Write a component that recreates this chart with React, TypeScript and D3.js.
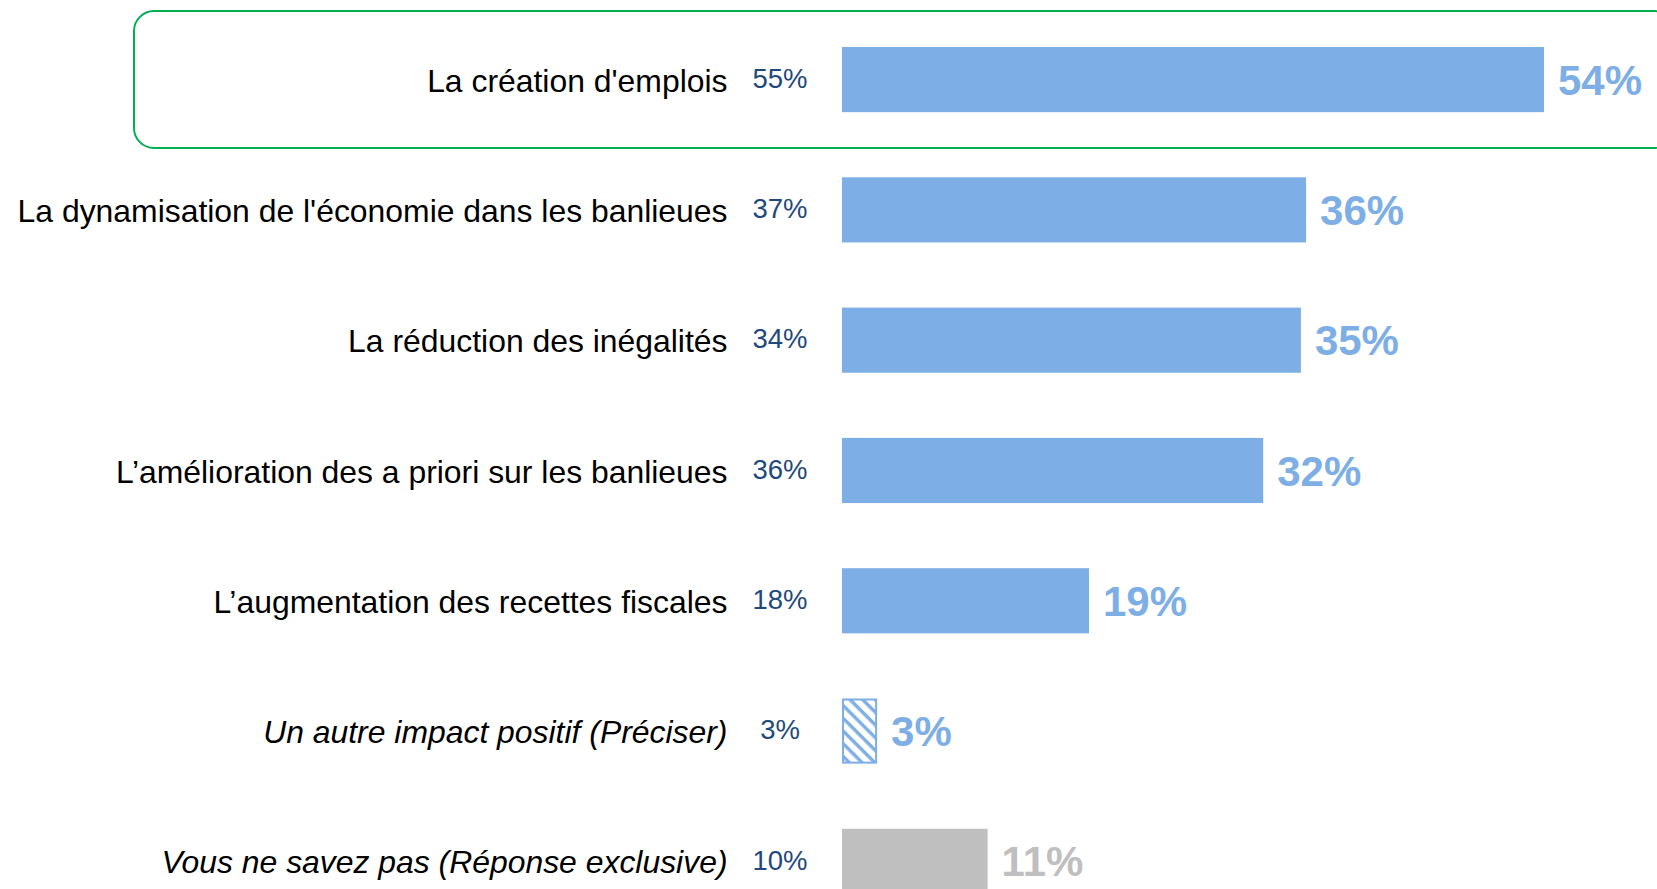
import React from "react";
import * as d3 from "d3";

const categories = [
  "La création d'emplois",
  "La dynamisation de l'économie dans les banlieues",
  "La réduction des inégalités",
  "L’amélioration des a priori sur les banlieues",
  "L’augmentation des recettes fiscales",
  "Un autre impact positif (Préciser)",
  "Vous ne savez pas (Réponse exclusive)",
];
const currentValues = [54, 35.7, 35.3, 32.4, 19, 2.7, 11.2];
const previousValues = [55, 37, 34, 36, 18, 3, 10];
const italicRows = [false, false, false, false, false, true, true];
const barKinds = ["solid", "solid", "solid", "solid", "solid", "hatch", "gray"];

const W = 1657;
const H = 889;
const BLUE = "#7EAEE6";
const GRAY = "#BFBFBF";
const DARK = "#1F497D";
const GREEN = "#00B050";
const FONT = "'Liberation Sans', Arial, Helvetica, sans-serif";

export default function App() {
  const step = 130.3;
  const y = d3
    .scaleBand<string>()
    .domain(categories)
    .range([47 - 0.25 * step, 47 - 0.25 * step + categories.length * step])
    .paddingInner(0.5)
    .paddingOuter(0.25);
  const x = d3.scaleLinear().domain([0, 54]).range([842, 1544]);
  const bw = y.bandwidth();

  return (
    <svg
      width={W}
      height={H}
      style={{ position: "absolute", left: 0, top: 0, background: "#fff" }}
      fontFamily={FONT}
    >
      <defs>
        <pattern
          id="hatch"
          width="9"
          height="9"
          patternUnits="userSpaceOnUse"
          patternTransform="rotate(45)"
        >
          <rect width="9" height="9" fill="#fff" />
          <rect x="0" y="0" width="9" height="3.4" fill={BLUE} />
        </pattern>
      </defs>
      <rect
        x={134}
        y={11}
        width={1540}
        height={137}
        rx={20}
        ry={20}
        fill="none"
        stroke={GREEN}
        strokeWidth={2}
      />
      {categories.map((c, i) => {
        const yc = (y(c) as number) + bw / 2;
        const v = currentValues[i];
        const kind = barKinds[i];
        const x1 = x(v);
        const fill = kind === "gray" ? GRAY : kind === "hatch" ? "url(#hatch)" : BLUE;
        const labelColor = kind === "gray" ? GRAY : BLUE;
        return (
          <g key={c}>
            <text
              x={727.5}
              y={yc}
              dy="0.38em"
              textAnchor="end"
              fontSize={31.9}
              fontStyle={italicRows[i] ? "italic" : "normal"}
              fill="#000"
            >
              {c}
            </text>
            <text
              x={780}
              y={yc}
              dy="0.3em"
              textAnchor="middle"
              fontSize={27.5}
              fill={DARK}
            >
              {`${previousValues[i]}%`}
            </text>
            {kind === "hatch" ? (
              <rect
                x={x(0) + 1}
                y={(y(c) as number) + 1}
                width={x1 - x(0) - 2}
                height={bw - 2}
                fill={fill}
                stroke={BLUE}
                strokeWidth={2}
              />
            ) : (
              <rect x={x(0)} y={y(c)} width={x1 - x(0)} height={bw} fill={fill} />
            )}
            <text
              x={x1 + 14}
              y={yc}
              dy="0.36em"
              fontSize={42}
              fontWeight="bold"
              fill={labelColor}
            >
              {`${Math.round(v)}%`}
            </text>
          </g>
        );
      })}
    </svg>
  );
}
